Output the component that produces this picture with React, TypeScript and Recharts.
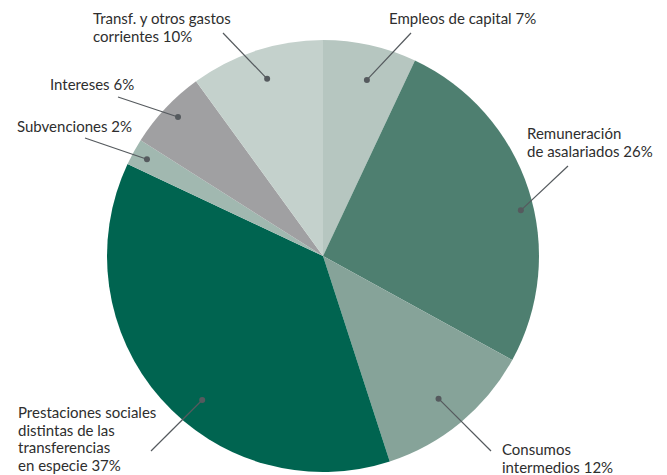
import React from 'react';
import { PieChart, Pie, Cell } from 'recharts';

const categories = [
    'Empleos de capital 7%',
    'Remuneración\nde asalariados 26%',
    'Consumos\nintermedios 12%',
    'Prestaciones sociales\ndistintas de las\ntransferencias\nen especie 37%',
    'Subvenciones 2%',
    'Intereses 6%',
    'Transf. y otros gastos\ncorrientes 10%',
];
const shares = [7, 26, 12, 37, 2, 6, 10];
const colors = ['#b6c6c0', '#4e7f70', '#86a399', '#006450', '#a1b8b0', '#a0a0a2', '#c4d1cc'];

// where each callout goes: dot radius (share of outer radius), angle nudge (deg, clockwise),
// end of the leader line, and the first text baseline
const callouts = [
    { r: 0.84, da: 1.4, end: [411, 33], tx: 389, ty: 24 },
    { r: 0.94, da: 5, end: [568, 166], tx: 527, ty: 139 },
    { r: 0.85, da: 0.6, end: [491, 451], tx: 502, ty: 455 },
    { r: 0.87, da: -8.6, end: [151, 451], tx: 18, ty: 418 },
    { r: 0.93, da: 0, end: [85, 138], tx: 17, ty: 132 },
    { r: 0.93, da: 0.6, end: [118, 97], tx: 50, ty: 90 },
    { r: 0.86, da: 0.5, end: [223, 33], tx: 93, ty: 24 },
];

const data = categories.map((name, i) => ({ name, value: shares[i] }));

const RAD = Math.PI / 180;

const renderLabel = (props: any) => {
    const { cx, cy, midAngle, outerRadius, index } = props;
    const c = callouts[index];
    const a = (midAngle - c.da) * RAD;
    const rr = outerRadius * c.r;
    const x = cx + rr * Math.cos(a);
    const y = cy - rr * Math.sin(a);
    const lines = categories[index].split('\n');
    return (
        <g key={'lbl' + index}>
            <line x1={x} y1={y} x2={c.end[0]} y2={c.end[1]} stroke="#555a5e" strokeWidth={1.2} />
            <circle cx={x} cy={y} r={3} fill="#555a5e" />
            <text x={c.tx} y={c.ty} fill="#2e2e2e" fontSize={15} fontFamily="Lato, sans-serif" textAnchor="start">
                {lines.map((l, j) => (
                    <tspan key={j} x={c.tx} y={c.ty + j * 17.6}>{l}</tspan>
                ))}
            </text>
        </g>
    );
};

export default function App() {
    return (
        <div style={{ position: 'absolute', left: 0, top: 0, width: 667, height: 475, background: '#fff' }}>
            <PieChart width={667} height={475} margin={{ top: 0, right: 0, bottom: 0, left: 0 }}>
                <Pie
                    data={data}
                    dataKey="value"
                    cx={323}
                    cy={256}
                    outerRadius={216}
                    startAngle={90}
                    endAngle={-270}
                    stroke="none"
                    label={renderLabel}
                    labelLine={false}
                    isAnimationActive={false}
                >
                    {data.map((_, i) => (
                        <Cell key={i} fill={colors[i]} />
                    ))}
                </Pie>
            </PieChart>
        </div>
    );
}
